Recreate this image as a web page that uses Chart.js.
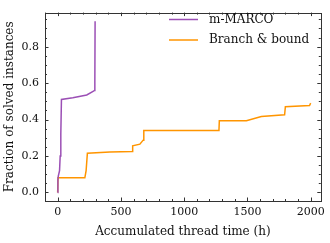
<!DOCTYPE html>
<html>
<head>
<meta charset="utf-8">
<script src="https://cdn.jsdelivr.net/npm/chart.js@4.4.1/dist/chart.umd.min.js"></script>
<style>
  html, body { margin: 0; padding: 0; background: #fff; }
  #wrap { position: relative; width: 330px; height: 243px; }
</style>
</head>
<body>
<div id="wrap"><canvas id="cv"></canvas></div>
<script>
// ---- data ----
const marcoTime = [0, 2, 5, 15, 20, 25, 30, 120, 230, 280, 292, 294, 296];
const marcoFrac = [0, 0.07, 0.09, 0.12, 0.2, 0.32, 0.51, 0.52, 0.535, 0.555, 0.56, 0.6, 0.94];

const bbTime = [0, 3, 215, 225, 235, 413, 590, 593, 650, 676, 681, 1275, 1278, 1492, 1610, 1794, 1800, 1991, 2000];
const bbFrac = [0, 0.08, 0.08, 0.12, 0.215, 0.222, 0.225, 0.256, 0.265, 0.287, 0.34, 0.34, 0.393, 0.393, 0.417, 0.426, 0.47, 0.477, 0.49];

const xTicks = [0, 500, 1000, 1500, 2000];
const yTicks = [0, 0.2, 0.4, 0.6, 0.8];
const seriesNames = ["m-MARCO", "Branch & bound"];
const seriesColors = ["#9b4fb5", "#ff9500"];

const FONT = "DejaVu Serif";

const pts = (xs, ys) => xs.map((x, i) => ({ x, y: ys[i] }));

// frame, inward ticks (major + minor) on all four sides, legend
const frameTicks = {
  id: "frameTicks",
  afterDraw(chart) {
    const { ctx, chartArea: a, scales: { x, y } } = chart;
    ctx.save();
    ctx.strokeStyle = "#333";
    ctx.lineWidth = 1;
    ctx.strokeRect(Math.round(a.left) + 0.5, Math.round(a.top) + 0.5, Math.round(a.right - a.left), Math.round(a.bottom - a.top));

    const tick = (px, len, vertical) => {
      ctx.beginPath();
      if (vertical) {
        ctx.moveTo(px, a.bottom); ctx.lineTo(px, a.bottom - len);
        ctx.moveTo(px, a.top);    ctx.lineTo(px, a.top + len);
      } else {
        ctx.moveTo(a.left, px);  ctx.lineTo(a.left + len, px);
        ctx.moveTo(a.right, px); ctx.lineTo(a.right - len, px);
      }
      ctx.stroke();
    };
    for (let v = -100; v <= x.max; v += 100) {
      const px = Math.round(x.getPixelForValue(v)) + 0.5;
      tick(px, v % 500 === 0 ? 3.5 : 2, true);
    }
    for (let k = 0; k * 0.05 <= y.max; k++) {
      const py = Math.round(y.getPixelForValue(k * 0.05)) + 0.5;
      tick(py, k % 4 === 0 ? 3.5 : 2, false);
    }

    // legend
    ctx.font = `12px "${FONT}"`;
    ctx.textBaseline = "middle";
    ctx.fillStyle = "#111";
    seriesNames.forEach((name, i) => {
      const ly = 19.5 + i * 20.5;
      ctx.strokeStyle = seriesColors[i];
      ctx.lineWidth = 1.5;
      ctx.beginPath(); ctx.moveTo(169, ly); ctx.lineTo(198, ly); ctx.stroke();
      ctx.fillText(name, 209, ly);
    });
    ctx.restore();
  },
};

new Chart(document.getElementById("cv").getContext("2d"), {
  type: "line",
  plugins: [frameTicks],
  data: {
    datasets: [
      { label: seriesNames[0], data: pts(marcoTime, marcoFrac), borderColor: seriesColors[0], borderWidth: 1.5, pointRadius: 0, tension: 0 },
      { label: seriesNames[1], data: pts(bbTime, bbFrac), borderColor: seriesColors[1], borderWidth: 1.5, pointRadius: 0, tension: 0 },
    ],
  },
  options: {
    responsive: true, maintainAspectRatio: false, animation: false,
    devicePixelRatio: 1,
    layout: { padding: { top: 5, right: 9, left: 0, bottom: 0 } },
    plugins: { legend: { display: false }, tooltip: { enabled: false } },
    scales: {
      x: {
        type: "linear", min: -100, max: 2080,
        afterBuildTicks: (s) => { s.ticks = xTicks.map((v) => ({ value: v })); },
        afterFit: (s) => { s.height = 42; },
        grid: { display: false, drawTicks: false },
        border: { display: false },
        ticks: { color: "#111", padding: 5, maxRotation: 0, font: { family: FONT, size: 11 }, callback: (v) => String(v) },
        title: { display: true, text: "Accumulated thread time (h)", color: "#111", font: { family: FONT, size: 12 }, padding: { top: 2, bottom: 4 } },
      },
      y: {
        type: "linear", min: -0.047, max: 0.987,
        afterBuildTicks: (s) => { s.ticks = yTicks.map((v) => ({ value: v })); },
        afterFit: (s) => { s.width = 45; },
        grid: { display: false, drawTicks: false },
        border: { display: false },
        ticks: { color: "#111", padding: 6, font: { family: FONT, size: 11 }, callback: (v) => v.toFixed(1) },
        title: { display: true, text: "Fraction of solved instances", color: "#111", font: { family: FONT, size: 12 }, padding: { top: 3, bottom: 2 } },
      },
    },
  },
});
</script>
</body>
</html>
